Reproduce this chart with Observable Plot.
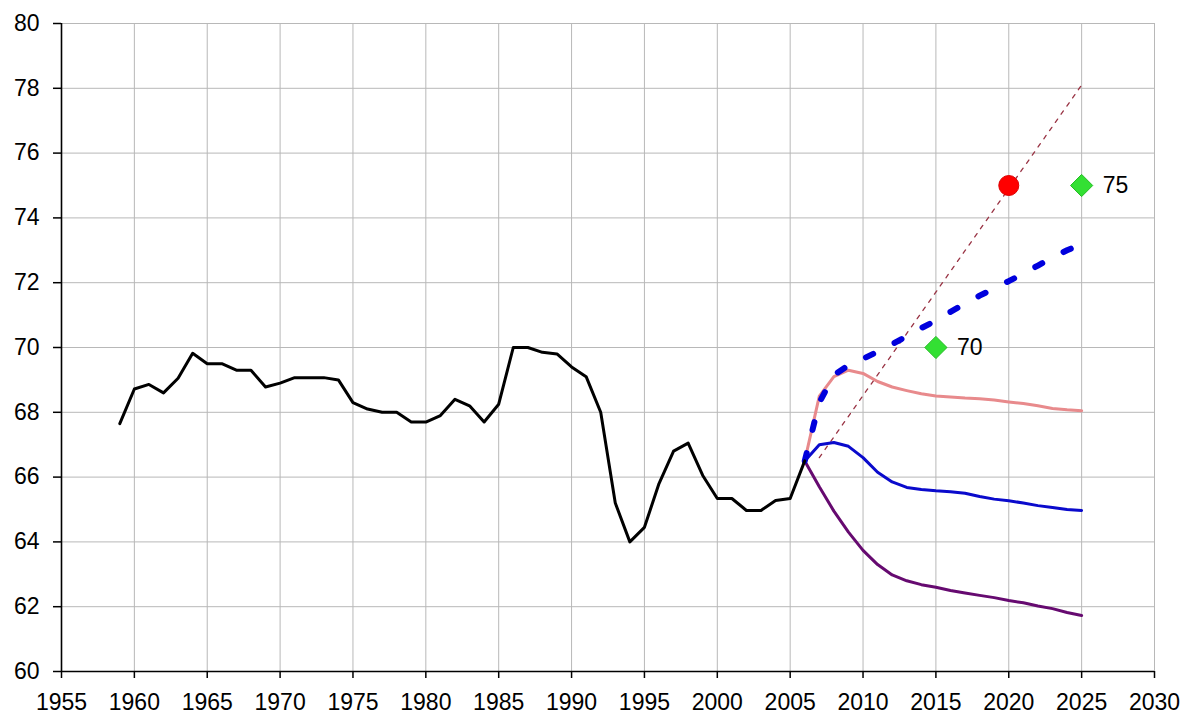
<!DOCTYPE html>
<html>
<head>
<meta charset="utf-8">
<script src="https://cdn.jsdelivr.net/npm/d3@7"></script>
<script src="https://cdn.jsdelivr.net/npm/@observablehq/plot@0.6"></script>
<style>
  html, body { margin: 0; padding: 0; background: #fff; }
</style>
</head>
<body>
<div id="chart"></div>
<script>
// Historical series (1959–2006)
const histYears = [1959,1960,1961,1962,1963,1964,1965,1966,1967,1968,1969,1970,1971,1972,1973,1974,1975,1976,1977,1978,1979,1980,1981,1982,1983,1984,1985,1986,1987,1988,1989,1990,1991,1992,1993,1994,1995,1996,1997,1998,1999,2000,2001,2002,2003,2004,2005,2006];
const histValues = [67.65,68.72,68.86,68.6,69.05,69.82,69.5,69.5,69.3,69.3,68.78,68.9,69.07,69.07,69.07,69.0,68.3,68.1,68.0,68.0,67.7,67.7,67.9,68.4,68.2,67.7,68.25,70.0,70.0,69.85,69.8,69.4,69.1,68.0,65.2,64.0,64.45,65.8,66.8,67.05,66.05,65.34,65.34,64.97,64.97,65.28,65.34,66.5];

// Projections (2006–2025)
const projYears = [2006,2007,2008,2009,2010,2011,2012,2013,2014,2015,2016,2017,2018,2019,2020,2021,2022,2023,2024,2025];
const pinkValues = [66.5,68.5,69.1,69.3,69.2,68.95,68.78,68.67,68.57,68.5,68.47,68.44,68.42,68.38,68.32,68.27,68.2,68.12,68.08,68.05];
const blueValues = [66.5,67.0,67.07,66.95,66.6,66.15,65.85,65.68,65.62,65.58,65.55,65.5,65.4,65.32,65.27,65.2,65.12,65.06,65.0,64.97];
const purpleValues = [66.5,65.7,64.95,64.3,63.74,63.3,62.98,62.8,62.68,62.6,62.5,62.42,62.35,62.28,62.19,62.12,62.02,61.94,61.82,61.73];
const dashedValues = [66.5,68.3,69.15,69.45,69.65,69.87,70.1,70.35,70.6,70.83,71.1,71.35,71.6,71.82,72.05,72.28,72.53,72.78,73.0,73.2];

// Trend line
const trendYears = [2007, 2025];
const trendValues = [66.6, 78.1];

// Targets
const targetYears = [2015, 2025];
const targetValues = [70, 75];
const targetLabels = ["70", "75"];
const goalYears = [2020];
const goalValues = [75];

const xTicks = d3.range(1955, 2031, 5);
const yTicks = d3.range(60, 81, 2);

const hist = histYears.map((x, i) => ({x, y: histValues[i]}));
const mk = vals => projYears.map((x, i) => ({x, y: vals[i]}));
const trend = trendYears.map((x, i) => ({x, y: trendValues[i]}));
const targets = targetYears.map((x, i) => ({x, y: targetValues[i], label: targetLabels[i]}));
const goal = goalYears.map((x, i) => ({x, y: goalValues[i]}));

const font = "'Liberation Sans', Arial, sans-serif";

const chart = Plot.plot({
  width: 1181,
  height: 718,
  marginLeft: 61,
  marginRight: 27,
  marginTop: 23,
  marginBottom: 47,
  style: {fontSize: "23px", fontFamily: font, background: "#fff", color: "#000", overflow: "visible"},
  x: {domain: [1955, 2030]},
  y: {domain: [60, 80]},
  marks: [
    Plot.ruleX(xTicks, {stroke: "#b8b8b8", strokeWidth: 1, strokeOpacity: 1}),
    Plot.ruleY(yTicks, {stroke: "#b8b8b8", strokeWidth: 1, strokeOpacity: 1}),
    Plot.axisY({ticks: yTicks, tickSize: 8, tickPadding: 14, fontSize: 23, stroke: "#000", strokeWidth: 1.5, label: null, tickFormat: d => String(d)}),
    Plot.axisX({ticks: xTicks, tickSize: 7, tickPadding: 15, fontSize: 23, stroke: "#000", strokeWidth: 1.5, label: null, tickFormat: d => String(d)}),
    Plot.ruleY([60], {stroke: "#000", strokeWidth: 1.6}),
    Plot.ruleX([1955], {stroke: "#000", strokeWidth: 1.6}),
    Plot.line(trend, {x: "x", y: "y", stroke: "#993344", strokeWidth: 1.3, strokeDasharray: "4,6"}),
    Plot.line(mk(purpleValues), {x: "x", y: "y", stroke: "#660a70", strokeWidth: 3}),
    Plot.line(mk(blueValues), {x: "x", y: "y", stroke: "#0a0acc", strokeWidth: 3}),
    Plot.line(mk(pinkValues), {x: "x", y: "y", stroke: "#e88a8c", strokeWidth: 3}),
    Plot.line(mk(dashedValues), {x: "x", y: "y", stroke: "#0000dd", strokeWidth: 6, strokeDasharray: "8,24"}),
    Plot.line(hist, {x: "x", y: "y", stroke: "#000", strokeWidth: 3}),
    Plot.dot(goal, {x: "x", y: "y", r: 10, fill: "#ff0000", stroke: "#dd0000", strokeWidth: 1}),
    Plot.dot(targets, {x: "x", y: "y", symbol: "diamond2", r: 10, fill: "#33e033", stroke: "#22bb22", strokeWidth: 1}),
    Plot.text(targets, {x: "x", y: "y", text: "label", dx: 21, textAnchor: "start", fontSize: 23, fill: "#000"})
  ]
});
document.getElementById("chart").appendChild(chart);
</script>
</body>
</html>
